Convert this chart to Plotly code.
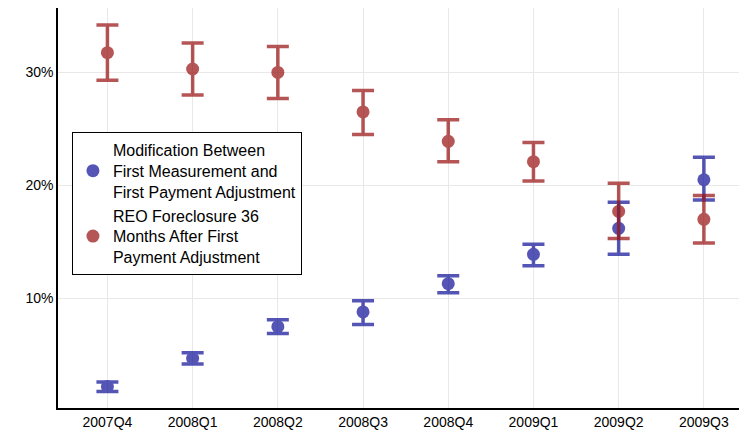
import plotly.graph_objects as go

cats = ["2007Q4","2008Q1","2008Q2","2008Q3","2008Q4","2009Q1","2009Q2","2009Q3"]
mod = [2.2, 4.7, 7.5, 8.8, 11.3, 13.9, 16.2, 20.5]
mod_hi = [2.6, 5.2, 8.1, 9.8, 12.0, 14.8, 18.5, 22.5]
mod_lo = [1.75, 4.2, 6.9, 7.7, 10.5, 12.9, 13.9, 18.7]
reo = [31.75, 30.3, 30.0, 26.5, 23.9, 22.1, 17.7, 17.0]
reo_hi = [34.2, 32.6, 32.3, 28.4, 25.8, 23.8, 20.2, 19.1]
reo_lo = [29.3, 28.0, 27.7, 24.5, 22.1, 20.4, 15.3, 14.9]
ytick_vals = [10, 20, 30]
ytick_text = ["10%", "20%", "30%"]

xi = list(range(len(cats)))
fig = go.Figure()
for name, v, hi, lo, col in [
    ("Modification Between<br>First Measurement and<br>First Payment Adjustment", mod, mod_hi, mod_lo, "#14149a"),
    ("REO Foreclosure 36<br>Months After First<br>Payment Adjustment", reo, reo_hi, reo_lo, "#9a1414")]:
    fig.add_trace(go.Scatter(
        x=xi, y=v, mode="markers", name=name, opacity=0.72,
        marker=dict(size=13, color=col),
        error_y=dict(type="data", symmetric=False,
                     array=[h - a for h, a in zip(hi, v)],
                     arrayminus=[a - l for a, l in zip(v, lo)],
                     color=col, thickness=3.5, width=11)))

fig.update_layout(
    width=747, height=438, plot_bgcolor="white", paper_bgcolor="white",
    margin=dict(l=50, r=0, t=0, b=38),
    font=dict(family="Liberation Sans", size=14, color="black"),
    legend=dict(x=0.02, y=0.69, xanchor="left", yanchor="top",
                bordercolor="black", borderwidth=1, bgcolor="white",
                font=dict(size=16), tracegroupgap=8, itemwidth=30),
    xaxis=dict(tickmode="array", tickvals=xi, ticktext=cats, range=[-0.58, 7.6],
               showline=True, linecolor="black", linewidth=1.5, gridcolor="#e8e8e8",
               ticks="", zeroline=False, tickfont=dict(size=14)),
    yaxis=dict(range=[0.3, 35.7], tickmode="array", tickvals=ytick_vals, ticktext=ytick_text,
               showline=True, linecolor="black", linewidth=1.5, gridcolor="#e8e8e8",
               ticks="", zeroline=False, tickfont=dict(size=14)),
)
fig.write_html("out.html")
